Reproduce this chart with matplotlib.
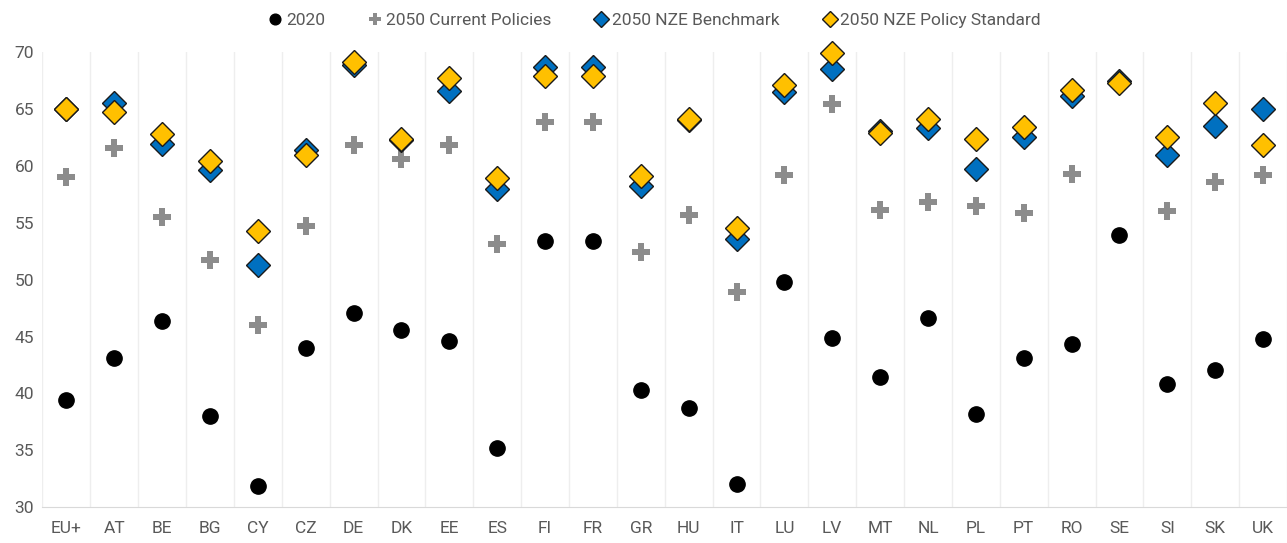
import numpy as np
import matplotlib
matplotlib.use("Agg")
import matplotlib.pyplot as plt

countries = ["EU+", "AT", "BE", "BG", "CY", "CZ", "DE", "DK", "EE", "ES", "FI", "FR", "GR",
             "HU", "IT", "LU", "LV", "MT", "NL", "PL", "PT", "RO", "SE", "SI", "SK", "UK"]

y2020 = [39.4, 43.1, 46.35, 38.0, 31.9, 44.0, 47.1, 45.6, 44.6, 35.2, 53.4, 53.4, 40.3,
         38.7, 32.05, 49.75, 44.85, 41.4, 46.65, 38.2, 43.1, 44.3, 53.95, 40.8, 42.05, 44.8]
current_policies = [59.05, 61.6, 55.5, 51.7, 46.0, 54.75, 61.8, 60.6, 61.8, 53.1, 63.85, 63.85, 52.4,
                    55.7, 48.9, 59.2, 65.4, 56.1, 56.8, 56.5, 55.9, 59.3, 67.2, 56.0, 58.6, 59.2]
nze_benchmark = [65.0, 65.5, 61.9, 59.6, 51.3, 61.4, 68.9, 62.3, 66.6, 58.0, 68.7, 68.7, 58.2,
                 64.0, 53.6, 66.5, 68.5, 63.05, 63.3, 59.7, 62.5, 66.1, 67.45, 61.0, 63.5, 65.0]
nze_policy = [65.0, 64.7, 62.8, 60.4, 54.3, 61.0, 69.1, 62.4, 67.7, 58.95, 67.9, 67.9, 59.1,
              64.1, 54.5, 67.1, 69.9, 62.9, 64.1, 62.4, 63.4, 66.7, 67.3, 62.5, 65.5, 61.8]

plt.rcParams['font.family'] = ['Roboto', 'DejaVu Sans']
txt = '#595959'

fig = plt.figure(figsize=(12.87, 5.43), dpi=100)
ax = fig.add_axes([0.033, 0.066, 0.967, 0.838])

x = np.arange(len(countries))
ax.plot(x, y2020, 'o', color='black', ms=11, ls='none', label='2020', zorder=3, clip_on=False)
ax.plot(x, current_policies, 'P', color='#8C8C8C', ms=13, mew=0, ls='none',
        label='2050 Current Policies', zorder=3, clip_on=False)
ax.plot(x, nze_benchmark, 'D', color='#0070C0', mec='#1a1a1a', mew=1.0, ms=12, ls='none',
        label='2050 NZE Benchmark', zorder=4, clip_on=False)
ax.plot(x, nze_policy, 'D', color='#FFC000', mec='#1a1a1a', mew=1.0, ms=12, ls='none',
        label='2050 NZE Policy Standard', zorder=5, clip_on=False)

ax.set_xlim(-0.5, len(countries) - 0.5)
ax.set_ylim(30, 70)
ax.set_yticks(np.arange(30, 71, 5))
ax.set_xticks(x)
ax.set_xticklabels(countries)
ax.set_xticks(np.arange(-0.5, len(countries), 1), minor=True)
ax.grid(True, axis='x', which='minor', color='#EEEEEE', lw=1)
ax.tick_params(which='both', length=0, labelsize=12.5, colors=txt)
ax.tick_params(axis='x', pad=10)
ax.tick_params(axis='y', pad=6)
for s in ['top', 'right', 'left']:
    ax.spines[s].set_visible(False)
ax.spines['bottom'].set_color('#D9D9D9')

fig.legend(loc='upper center', bbox_to_anchor=(0.508, 1.005), ncol=4, frameon=False,
           fontsize=12.5, markerscale=0.7, handletextpad=0.1, columnspacing=2.4,
           handlelength=1.0, labelcolor=txt)

fig.savefig('out.png', dpi=100)
